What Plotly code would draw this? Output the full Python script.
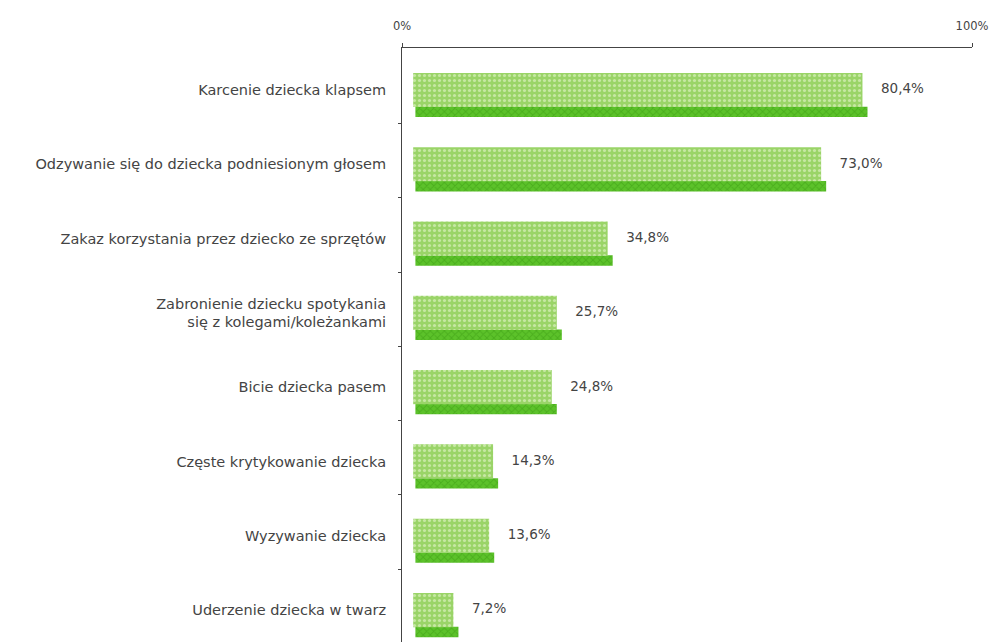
import plotly.graph_objects as go

# dane z wykresu
kategorie = [
    "Karcenie dziecka klapsem",
    "Odzywanie się do dziecka podniesionym głosem",
    "Zakaz korzystania przez dziecko ze sprzętów",
    "Zabronienie dziecku spotykania<br>się z kolegami/koleżankami",
    "Bicie dziecka pasem",
    "Częste krytykowanie dziecka",
    "Wyzywanie dziecka",
    "Uderzenie dziecka w twarz",
]
wartosci = [80.4, 73.0, 34.8, 25.7, 24.8, 14.3, 13.6, 7.2]
os_x_etykiety = ["0%", "100%"]

pozycje = list(range(len(kategorie)))
etykiety_wartosci = [f"{w:.1f}%".replace(".", ",") for w in wartosci]

fig = go.Figure()

# ciemniejszy pasek "cienia" (efekt 3D)
fig.add_trace(go.Bar(
    y=pozycje,
    x=[w + 0.5 for w in wartosci],
    base=0.4,
    orientation="h",
    width=0.14,
    offset=0.225,
    marker=dict(
        color="#52b823",
        line=dict(width=0),
        pattern=dict(shape="x", fgcolor="#3a9a12", bgcolor="#5cc22a", size=5, solidity=0.35),
    ),
    hoverinfo="skip",
    showlegend=False,
))

# jasna powierzchnia słupka
fig.add_trace(go.Bar(
    y=pozycje,
    x=wartosci,
    orientation="h",
    width=0.46,
    offset=-0.23,
    marker=dict(
        color="#a0d86e",
        line=dict(width=0),
        pattern=dict(shape=".", fgcolor="#f2fae0", bgcolor="#9ad468", size=5, solidity=0.3),
    ),
    hoverinfo="skip",
    showlegend=False,
))

# etykiety wartości
fig.add_trace(go.Scatter(
    y=pozycje,
    x=wartosci,
    mode="markers+text",
    marker=dict(size=28, opacity=0),
    text=etykiety_wartosci,
    textposition="middle right",
    textfont=dict(family="DejaVu Sans, Liberation Sans", size=13.5, color="#444444"),
    cliponaxis=False,
    hoverinfo="skip",
    showlegend=False,
))

# strona ma 8 px marginesu przeglądarki, więc figura jest o tyle mniejsza
fig.update_layout(
    width=989,
    height=634,
    margin=dict(l=394, r=25, t=40, b=0),
    paper_bgcolor="white",
    plot_bgcolor="white",
    barmode="overlay",
    font=dict(family="DejaVu Sans, Liberation Sans", size=12, color="#333333"),
)

fig.update_xaxes(
    side="top",
    range=[-2, 100],
    tickvals=[-2, 100],
    ticktext=os_x_etykiety,
    showline=True,
    linecolor="#444444",
    linewidth=1,
    ticks="outside",
    ticklen=4,
    tickcolor="#444444",
    ticklabelstandoff=8,
    showgrid=False,
    zeroline=False,
    tickfont=dict(size=11.5, color="#444444"),
    fixedrange=True,
)

fig.update_yaxes(
    range=[7.43, -0.565],
    tickvals=pozycje,
    ticktext=kategorie,
    showline=True,
    linecolor="#444444",
    linewidth=1,
    ticks="",
    ticklabelstandoff=12,
    minor=dict(tickvals=[p + 0.45 for p in pozycje], ticks="outside", ticklen=3, tickcolor="#444444"),
    showgrid=False,
    zeroline=False,
    tickfont=dict(size=14.5, color="#444444"),
    fixedrange=True,
)

fig.write_html("out.html")
